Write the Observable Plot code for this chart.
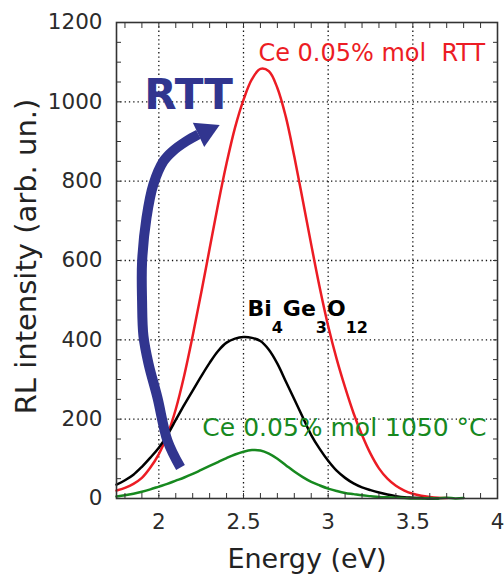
<!DOCTYPE html>
<html><head><meta charset="utf-8">
<script src="https://cdn.jsdelivr.net/npm/d3@7"></script>
<script src="https://cdn.jsdelivr.net/npm/@observablehq/plot@0.6"></script>
<style>
html,body{margin:0;padding:0;background:#fff;}
#chart svg{display:block;font-family:"DejaVu Sans",sans-serif;}
</style></head><body><div id="chart"></div>
<script>
// Photon energy (eV)
const energy = [1.75,1.80,1.85,1.90,1.95,2.00,2.05,2.10,2.15,2.20,2.25,2.30,2.35,2.40,2.45,2.50,2.55,2.60,2.65,2.70,2.75,2.80,2.85,2.90,2.95,3.00,3.05,3.10,3.15,3.20,3.25,3.30,3.35,3.40,3.45,3.50,3.55,3.60,3.65,3.70,3.75,3.80];
// RL intensity (arb. un.)
const rttCounts = [20,27,37,52,78,112,160,225,310,410,518,630,742,845,935,1005,1057,1083,1077,1035,962,862,752,640,532,435,352,280,215,160,113,76,50,32,20,12,7,4,2,1,null,null];
const bgoCounts = [35,46,60,80,103,128,160,198,236,272,308,342,372,393,403,407,405,397,375,340,295,250,205,160,125,95,70,52,38,28,21,15,10,6,3,2,1,0,0,null,null,null];
const ce1050Counts = [5,8,12,17,23,30,37,45,53,62,72,82,92,102,111,118,122,121,113,100,84,68,54,42,33,25,19,14,11,8,6,4,3,2,1,0,0,1,0,2,0,1];

const seriesNames = ["Ce 0.05% mol  RTT", "Bi4Ge3O12", "Ce 0.05% mol 1050 °C"];
const seriesColors = ["#ec1c24", "#000000", "#17891f"];
const seriesValues = [rttCounts, bgoCounts, ce1050Counts];

const xTickValues = [2, 2.5, 3, 3.5, 4];
const yTickValues = [0, 200, 400, 600, 800, 1000, 1200];
const xMinorTicks = [1.8,1.9,2.0,2.1,2.2,2.3,2.4,2.5,2.6,2.7,2.8,2.9,3.0,3.1,3.2,3.3,3.4,3.5,3.6,3.7,3.8,3.9];
const yMinorTicks = [50,100,150,200,250,300,350,400,450,500,550,600,650,700,750,800,850,900,950,1000,1050,1100,1150];

// annotation arrow (data coordinates)
const arrowEnergy = [2.128,2.051,1.992,1.939,1.909,1.901,1.901,1.927,1.968,2.027,2.080,2.163,2.234];
const arrowLevel  = [78,146,254,340,410,498,596,707,792,850,875,901,918];

const rows = [];
seriesValues.forEach((vals, s) => {
  vals.forEach((v, i) => { if (v !== null) rows.push({series: seriesNames[s], e: energy[i], v}); });
});
const arrowPts = arrowEnergy.map((e, i) => ({e, v: arrowLevel[i]}));
const blue = "#31358f";
const fontFam = "DejaVu Sans, sans-serif";
const fmt = d => String(d);

const chart = Plot.plot({
  width: 504, height: 585,
  marginLeft: 116, marginRight: 7, marginTop: 22, marginBottom: 87,
  style: {fontFamily: fontFam, background: "#fff"},
  x: {domain: [1.75, 4]},
  y: {domain: [0, 1200]},
  color: {domain: seriesNames, range: seriesColors},
  marks: [
    Plot.gridX([2, 2.5, 3, 3.5], {stroke: "#111", strokeOpacity: 1, strokeWidth: 1.3, strokeDasharray: "1.3,3"}),
    Plot.gridY([200, 400, 600, 800, 1000], {stroke: "#111", strokeOpacity: 1, strokeWidth: 1.3, strokeDasharray: "1.3,3"}),
    Plot.line(rows, {x: "e", y: "v", z: "series", stroke: "series", strokeWidth: 2.5, curve: "catmull-rom"}),
    Plot.line(arrowPts, {x: "e", y: "v", stroke: blue, strokeWidth: 10, curve: "catmull-rom", strokeLinecap: "butt"}),
    Plot.dot([{e: 2.276, v: 925}], {x: "e", y: "v", symbol: "triangle", r: 10, fill: blue, rotate: 65}),
    // inward ticks
    Plot.axisX(xMinorTicks, {anchor: "bottom", tickSize: 5, dy: -5, fill: "none", label: null, stroke: "#333"}),
    Plot.axisX(xMinorTicks, {anchor: "top", tickSize: 5, dy: 5, fill: "none", label: null, stroke: "#333"}),
    Plot.axisY(yMinorTicks, {anchor: "left", tickSize: 5, dx: 5, fill: "none", label: null, stroke: "#333"}),
    Plot.axisY(yMinorTicks, {anchor: "right", tickSize: 5, dx: -5, fill: "none", label: null, stroke: "#333"}),
    // tick labels
    Plot.axisX(xTickValues, {anchor: "bottom", tickSize: 0, tickPadding: 15, fontSize: 21.5, label: null, fill: "#2b2b2b", tickFormat: fmt}),
    Plot.axisY(yTickValues, {anchor: "left", tickSize: 0, tickPadding: 14, fontSize: 21.5, label: null, fill: "#2b2b2b", tickFormat: fmt}),
    Plot.frame({stroke: "#333", strokeWidth: 1.6}),
    // axis titles
    Plot.text(["Energy (eV)"], {frameAnchor: "bottom", dy: 61, fontSize: 27, fill: "#222", textAnchor: "middle", lineAnchor: "middle"}),
    Plot.text(["RL intensity (arb. un.)"], {frameAnchor: "left", dx: -90, dy: -4, rotate: -90, fontSize: 29, fill: "#222", textAnchor: "middle", lineAnchor: "middle"}),
    // series labels
    Plot.text([{e: 2.588, v: 1102}], {x: "e", y: "v", text: () => seriesNames[0], fill: seriesColors[0], fontSize: 24, textAnchor: "start", lineAnchor: "bottom"}),
    Plot.text([{e: 2.523, v: 460}], {x: "e", y: "v", text: () => seriesNames[1], fill: seriesColors[1], fontSize: 22, fontWeight: "bold", textAnchor: "start", lineAnchor: "bottom"}),
    Plot.text([{e: 2.257, v: 157}], {x: "e", y: "v", text: () => seriesNames[2], fill: seriesColors[2], fontSize: 25, textAnchor: "start", lineAnchor: "bottom"}),
    Plot.text([{e: 1.914, v: 983}], {x: "e", y: "v", text: () => "RTT", fill: blue, fontSize: 42, fontWeight: "bold", textAnchor: "start", lineAnchor: "bottom"})
  ]
});
document.getElementById("chart").appendChild(chart);

// chemical formula subscripts
d3.select(chart).selectAll("text").filter(function() { return this.textContent === "Bi4Ge3O12"; })
  .each(function() {
    const t = d3.select(this);
    t.text(null);
    const parts = [["Bi", 0], ["4", 17], ["Ge", -17], ["3", 17], ["O", -17], ["12", 17]];
    parts.forEach(([s, dy]) => {
      const sp = t.append("tspan").text(s).attr("dy", dy);
      if (/\d/.test(s)) sp.attr("font-size", 16);
    });
  });
</script></body></html>
